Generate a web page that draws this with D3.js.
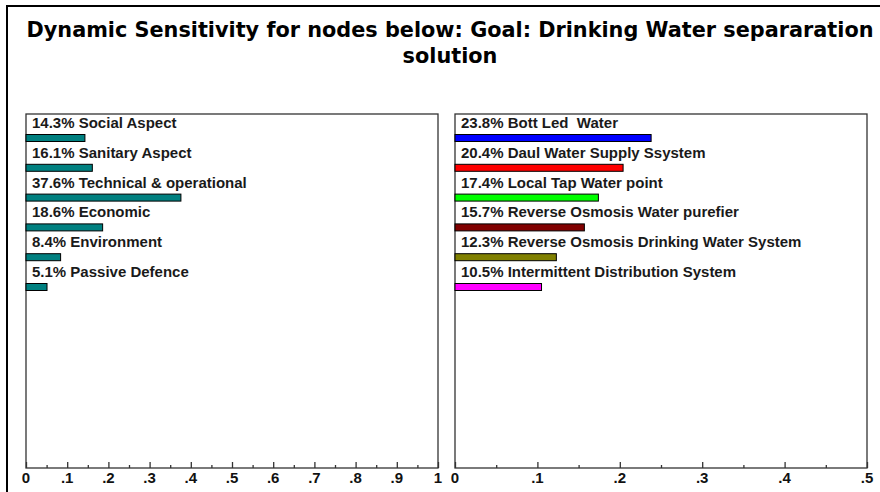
<!DOCTYPE html>
<html>
<head>
<meta charset="utf-8">
<script src="https://cdn.jsdelivr.net/npm/d3@7"></script>
<style>
  body { margin: 0; background: #fff; }
  svg { display: block; }
</style>
</head>
<body>
<svg id="chart" width="880" height="492"></svg>
<script>
// left panel: criteria
const criteria = ['Social Aspect', 'Sanitary Aspect', 'Technical & operational', 'Economic', 'Environment', 'Passive Defence']
const criteriaValues = [0.143, 0.161, 0.376, 0.186, 0.084, 0.051]

// right panel: alternatives
const alternatives = ['Bott Led  Water', 'Daul Water Supply Ssystem', 'Local Tap Water point',
  'Reverse Osmosis Water purefier', 'Reverse Osmosis Drinking Water System', 'Intermittent Distribution System']
const alternativeValues = [0.238, 0.204, 0.174, 0.157, 0.123, 0.105]
const alternativeColors = ['#0000ff', '#ff0000', '#00ff00', '#800000', '#808000', '#ff00ff']

const leftTicks = ['0', '.1', '.2', '.3', '.4', '.5', '.6', '.7', '.8', '.9', '1']
const rightTicks = ['0', '.1', '.2', '.3', '.4', '.5']

const svg = d3.select('#chart')

// outer frame
svg.append('line').attr('x1', 7).attr('x2', 7).attr('y1', 5).attr('y2', 492)
  .attr('stroke', '#000').attr('stroke-width', 2)
svg.append('line').attr('x1', 6).attr('x2', 880).attr('y1', 6).attr('y2', 6)
  .attr('stroke', '#000').attr('stroke-width', 2)

const title = svg.append('text')
  .attr('text-anchor', 'middle')
  .attr('font-family', 'DejaVu Sans')
  .attr('font-weight', 'bold')
  .attr('font-size', 20.8)
  .attr('fill', '#000')
title.append('tspan').attr('x', 450).attr('y', 37).text('Dynamic Sensitivity for nodes below: Goal: Drinking Water separaration')
title.append('tspan').attr('x', 450).attr('y', 63).text('solution')

const panelTop = 114, panelBottom = 468
const rowStep = 29.8

function panel(x0, x1, maxVal, names, values, colors, ticks) {
  const g = svg.append('g')
  const x = d3.scaleLinear([0, maxVal], [x0, x1])

  g.append('rect')
    .attr('x', x0).attr('y', panelTop)
    .attr('width', x1 - x0).attr('height', panelBottom - panelTop)
    .attr('fill', 'none').attr('stroke', '#333').attr('stroke-width', 1.3)

  const rows = g.selectAll('.row')
    .data(names.map((n, i) => ({name: n, value: values[i], color: colors[i]})))
    .join('g')
    .attr('class', 'row')
    .attr('transform', (d, i) => `translate(0, ${panelTop + i * rowStep})`)

  rows.append('text')
    .attr('x', x0 + 6).attr('y', 14)
    .attr('font-family', 'Liberation Sans, Arial')
    .attr('font-weight', 'bold')
    .attr('font-size', 15)
    .attr('fill', '#1a1a1a')
    .style('white-space', 'pre')
    .text(d => `${(d.value * 100).toFixed(1)}% ${d.name}`)

  rows.append('rect')
    .attr('x', x0).attr('y', 20.5)
    .attr('width', d => x(d.value) - x0).attr('height', 7)
    .attr('fill', d => d.color)
    .attr('stroke', '#000').attr('stroke-width', 1)

  // axis: major ticks every .1, minor at .05
  const axis = d3.axisTop(x)
    .tickValues(d3.range(0, maxVal + 0.0001, 0.05))
    .tickSize(0)
    .tickFormat('')
  const ag = g.append('g').attr('transform', `translate(0, ${panelBottom})`).call(axis)
  ag.select('.domain').remove()
  ag.selectAll('.tick').append('line')
    .attr('y2', (d, i) => i % 2 === 0 ? -6 : -3)
    .attr('stroke', '#333').attr('stroke-width', 1.3)

  g.selectAll('.ticklab')
    .data(ticks)
    .join('text')
    .attr('class', 'ticklab')
    .attr('x', (d, i) => x(i * 0.1))
    .attr('y', 483)
    .attr('text-anchor', 'middle')
    .attr('font-family', 'Liberation Sans, Arial')
    .attr('font-weight', 'bold')
    .attr('font-size', 15)
    .attr('fill', '#111')
    .text(d => d)
}

panel(26, 438, 1, criteria, criteriaValues, criteria.map(() => '#008080'), leftTicks)
panel(455, 867, 0.5, alternatives, alternativeValues, alternativeColors, rightTicks)
</script>
</body>
</html>
